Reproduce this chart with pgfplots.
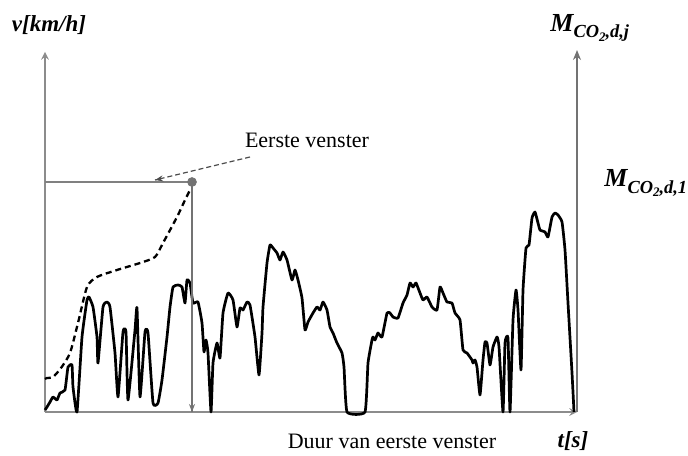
\documentclass[border=0pt]{standalone}
\usepackage{fontspec}
\setmainfont{Liberation Serif}
\usepackage{pgfplots}
\pgfplotsset{compat=1.18}
\usetikzlibrary{arrows.meta}
\newcommand\lblA{\fontsize{11}{12}\selectfont}
\newcommand\lblB{\fontsize{11.5}{13}\selectfont}
\newcommand\lblM{\fontsize{13}{14}\selectfont}
\newcommand\subA{\fontsize{9.2}{10}\selectfont}
\newcommand\subB{\fontsize{6.5}{7}\selectfont}
\newcommand\Mlab[1]{{\bfseries\itshape M\raisebox{-0.55ex}{\subA CO\raisebox{-0.4ex}{\subB 2},d,#1}}}
\begin{document}
\begin{tikzpicture}[x=0.5pt,y=0.5pt]
\begin{axis}[
  at={(0pt,0pt)}, anchor=south west,
  scale only axis, width=266pt, height=180pt,
  xmin=0, xmax=532, ymin=0, ymax=360,
  axis lines=left,
  axis line style={draw=black!45, line width=0.7pt},
  xtick=\empty, ytick=\empty,
  clip=false,
]
\addplot[black, line width=1.35pt, line join=round, smooth, tension=0.25] coordinates {
(0,2)(2,5)(5,10)(8,15)(12,12)(15,19)(20,22)(23,45)(27,47)(28,25)(32,0)
(37,75)(42,112)(44,115)(48,105)(52,75)(53,49)(58,105)(62,110)(65,105)
(70,59)(73,15)(78,80)(81,80)(83,12)(90,82)(92,104)(95,15)(100,80)(103,79)
(108,9)(113,9)(117,32)(122,75)(125,105)(128,125)(133,127)(137,125)(140,109)
(142,132)(145,129)(148,109)(153,110)(157,89)(159,60)(161,72)(163,59)(166,0)
(168,49)(172,69)(175,54)(178,99)(183,119)(188,112)(192,85)(195,104)(198,102)
(202,110)(205,107)(210,75)(214,37)(217,79)(218,105)(222,149)(225,167)(228,164)
(232,159)(235,152)(238,160)(242,152)(247,132)(250,142)(253,132)(257,114)
(260,82)(263,90)(268,99)(272,105)(275,102)(278,110)(282,102)(285,85)(288,79)
(292,69)(297,59)(299,45)(302,0)(320,0)(323,49)(327,72)(328,75)(330,72)
(333,79)(337,75)(342,99)(345,99)(348,95)(353,94)(358,109)(362,117)(365,129)
(368,125)(371,129)(375,119)(378,112)(382,115)(387,105)(392,102)(395,125)
(398,119)(402,110)(407,109)(410,99)(415,92)(418,62)(422,59)(427,52)(428,49)
(430,52)(432,45)(435,17)(438,52)(440,70)(442,69)(445,47)(448,65)(452,75)
(454,65)(458,0)(460,69)(463,74)(465,0)(468,92)(471,122)(473,102)(476,42)
(478,122)(481,164)(484,167)(487,194)(490,200)(493,189)(495,182)(500,180)
(503,175)(507,195)(510,199)(513,197)(517,190)(520,162)(523,109)(527,39)(529,0)
};
\addplot[black, line width=1.15pt, dash pattern=on 3pt off 2pt, smooth, tension=0.4] coordinates {
(0,33)(2,34)(8,35)(16,44)(25,59)(33,89)(42,125)(52,135)(72,142)(95,149)
(110,155)(118,169)(132,195)(140,212)(146,224)
};
\addplot[black!50, line width=0.8pt] coordinates {(0,230)(147,230)};
\addplot[black!55, line width=0.7pt] coordinates {(147,230)(147,0)};
\addplot[only marks, mark=*, mark size=2.2pt, black!55] coordinates {(147,230)};
\addplot[black!70, line width=0.6pt, dash pattern=on 2.5pt off 1.5pt] coordinates {(205,255)(110,232)};
\end{axis}
\draw[black!55, line width=0.7pt, -{Stealth[length=5pt,width=4pt]}] (532,0) -- (532,362);
\draw[black!55, line width=0.7pt, -{Stealth[length=4pt,width=3pt]}] (147,10) -- (147,0);
\draw[black!70, line width=0.6pt, -{Stealth[length=4pt,width=3pt]}] (115,233) -- (110,232);
\node[font=\lblA] at (262,272) {Eerste venster};
\node[font=\lblA] at (347,-29) {Duur van eerste venster};
\node[font=\lblB] at (528,-29) {\textbf{\textit{t[s]}}};
\node[font=\lblB] at (4,387) {\textbf{\textit{v[km/h]}}};
\node[font=\lblM, anchor=west, inner sep=0pt] at (505,384) {\Mlab{j}};
\node[font=\lblM, anchor=west, inner sep=0pt] at (559,229) {\Mlab{1}};
\pgfresetboundingbox
\useasboundingbox (-45,-43) rectangle (643,412);
\end{tikzpicture}
\end{document}
